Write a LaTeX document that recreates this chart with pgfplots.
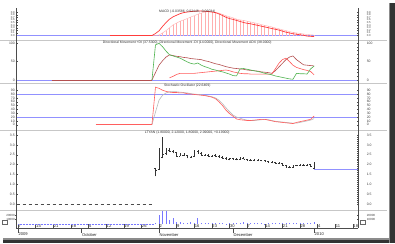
\documentclass[border=0pt]{standalone}
\usepackage{fontspec}
\setmainfont{Liberation Sans}
\usepackage{pgfplots}
\pgfplotsset{compat=1.18}
\usepackage{pgfplotstable}

\definecolor{bluel}{RGB}{145,145,255}
\definecolor{macdred}{RGB}{255,60,60}
\definecolor{macdbar}{RGB}{255,175,175}
\definecolor{dmigreen}{RGB}{80,180,80}
\definecolor{dmired}{RGB}{255,90,90}
\definecolor{dmibrown}{RGB}{180,80,80}
\definecolor{stred}{RGB}{255,95,95}
\definecolor{stgray}{RGB}{185,185,185}
\definecolor{volblue}{RGB}{120,120,255}
\newcommand\tinyf{\fontsize{3.4}{4}\selectfont}
\newcommand\tickf{\fontsize{3.4}{3.8}\selectfont}
\newcommand\datef{\fontsize{4.1}{4.6}\selectfont}

\pgfdeclareplotmark{tickright}{\pgfpathmoveto{\pgfqpoint{0pt}{0pt}}\pgfpathlineto{\pgfqpoint{1.2pt}{0pt}}\pgfusepathqstroke}
\pgfdeclareplotmark{tickleft}{\pgfpathmoveto{\pgfqpoint{0pt}{0pt}}\pgfpathlineto{\pgfqpoint{-1.2pt}{0pt}}\pgfusepathqstroke}

\pgfplotstableread{
i s m
38 0 0
39 0 0.08
40 0.02 0.18
41 0.10 0.35
42 0.19 0.50
43 0.30 0.63
44 0.41 0.72
45 0.48 0.78
46 0.55 0.84
47 0.60 0.88
48 0.65 0.90
49 0.71 0.92
50 0.76 0.93
51 0.82 0.94
52 0.86 0.94
53 0.90 0.93
54 0.92 0.92
55 0.91 0.90
56 0.89 0.88
57 0.86 0.83
58 0.81 0.77
59 0.76 0.70
60 0.72 0.65
61 0.68 0.62
62 0.63 0.58
63 0.60 0.54
64 0.58 0.50
65 0.55 0.47
66 0.52 0.45
67 0.49 0.42
68 0.46 0.39
69 0.42 0.36
70 0.39 0.33
71 0.36 0.30
72 0.33 0.27
73 0.29 0.24
74 0.26 0.21
75 0.22 0.17
76 0.19 0.13
77 0.15 0.10
78 0.12 0.07
79 0.10 0.05
80 0.08 0.03
81 0.06 0.01
82 0.04 -0.02
83 0.03 -0.03
84 0.02 -0.04
}\macdtab

\pgfplotstableread{
i p a
38 0 0
39 95 20
40 99 40
41 90 52
42 78 62
43 68 68
44 65 66
45 62 64
46 59 63
47 54 61
48 49 60
49 45 58
50 43 57
51 46 56
52 40 55
53 36 52
54 33 50
55 29 47
56 27 44
57 24 42
58 22 39
59 19 36
60 16 34
61 12 32
62 11 31
63 30 30
64 31 29
65 29 27
66 27 26
67 25 25
68 23 24
69 21 22
70 18 21
71 16 20
72 14 18
73 11 25
74 9 35
75 7 45
76 5 55
77 3 62
78 2 65
79 18 55
80 17 48
81 17 41
82 16 40
83 30 39
84 37.5 38
}\dmitab

\pgfplotstableread{
i n
43 6
44 10
45 15
46 18
47 18
48 18
49 18
50 18
51 19
52 20
53 21
54 22
55 23
56 24
57 25
58 26
59 27
60 25
61 22
62 20
63 18
64 17
65 17
66 16
67 16
68 16
69 16
70 16
71 16
72 16
73 30
74 45
75 55
76 59
77 50
78 40
79 34
80 31
81 28
82 26
83 23
84 14
}\dmintab

\pgfplotstableread{
i k d
38 1 0
39 98 33
40 95 64
41 90 77
42 87 83
43 85 86
44 84 86
45 84 86
46 83 85
47 83 84
48 81 83
49 80 81
50 79 80
51 78 79
52 77 78
53 76 77
54 74 75
55 72 73
56 68 70
57 60 64
58 50 55
59 38 44
60 29 34
61 22 25
62 15 20
63 13 17
64 12 14
65 11 12
66 11 11
67 12 11
68 13 12
69 14 13
70 14 14
71 12 13
72 10 11
73 8 9
74 7 8
75 6 7
76 5 6
77 4 5
78 3 4
79 6 4
80 8 6
81 10 8
82 12 10
83 14 12
84 22.6 16
}\sttab

\pgfplotstableread{
i o h l c
39 1.80 1.84 1.40 1.70
40 1.75 2.83 1.73 2.70
41 2.40 3.41 2.32 2.55
42 2.60 2.83 2.49 2.75
43 2.75 2.83 2.66 2.70
44 2.70 2.74 2.57 2.62
45 2.62 2.66 2.40 2.45
46 2.45 2.57 2.44 2.50
47 2.50 2.57 2.44 2.48
48 2.48 2.50 2.32 2.40
49 2.40 2.45 2.34 2.42
50 2.42 2.74 2.40 2.70
51 2.70 2.72 2.55 2.60
52 2.60 2.62 2.45 2.50
53 2.50 2.55 2.45 2.48
54 2.48 2.52 2.40 2.45
55 2.45 2.50 2.40 2.46
56 2.46 2.52 2.42 2.44
57 2.44 2.48 2.38 2.40
58 2.40 2.42 2.30 2.33
59 2.33 2.36 2.24 2.28
60 2.28 2.34 2.22 2.30
61 2.30 2.35 2.24 2.28
62 2.28 2.32 2.22 2.26
63 2.26 2.37 2.24 2.34
64 2.34 2.36 2.26 2.28
65 2.28 2.30 2.20 2.24
66 2.24 2.28 2.18 2.22
67 2.22 2.27 2.18 2.24
68 2.24 2.26 2.17 2.20
69 2.20 2.24 2.16 2.22
70 2.22 2.24 2.14 2.18
71 2.18 2.20 2.10 2.14
72 2.14 2.16 2.06 2.10
73 2.10 2.14 2.04 2.08
74 2.08 2.12 2.02 2.05
75 2.05 2.06 1.94 1.97
76 1.97 2.00 1.85 1.88
77 1.88 1.92 1.82 1.86
78 1.86 1.98 1.84 1.95
79 1.95 2.00 1.92 1.96
80 1.96 2.02 1.94 1.98
81 1.98 2.03 1.95 1.97
82 1.97 2.04 1.94 2.00
83 2.00 2.05 1.88 1.90
84 1.80 2.12 1.80 2.09
}\pricetab

\pgfplotstableread{
i v
39 3000
40 20000
41 28000
42 28000
43 9000
44 14000
45 5000
46 4000
47 3000
48 2500
49 4000
50 3000
51 14000
52 2000
53 1500
54 2500
55 1500
56 2000
57 1500
58 2500
59 1000
60 2000
61 1500
62 2500
63 3000
64 4500
65 2000
66 1500
67 2500
68 1500
69 2000
70 1000
71 2500
72 1500
73 2000
74 1500
75 2500
76 2000
77 1500
78 3000
79 1500
80 2000
81 1500
82 2500
83 2000
84 3500
}\voltab

\pgfplotsset{
  panelbase/.style={scale only axis, width=341.5pt, xmin=-0.43, xmax=96.45,
    anchor=south west,
    axis line style={-, draw=black!70, line width=0.4pt},
    tick style={draw=black!70, line width=0.3pt}, major tick length=2pt, minor tick length=1.2pt,
    ytick align=center,
    yticklabel style={font=\tickf, text=black!75, inner sep=0.6pt, /pgf/number format/assume math mode=true}},
  panel/.style={panelbase, axis x line=none, axis y line*=left},
  panelR/.style={panel, axis y line*=right, yticklabel style={xshift=7pt}},
  p1/.style={at={(16.5pt,203pt)}, height=32pt, ymin=-0.17, ymax=1.056,
    ytick={0,0.1,0.2,0.3,0.4,0.5,0.6,0.7,0.8,0.9},
    yticklabel style={font=\fontsize{2.8}{3.1}\selectfont, /pgf/number format/fixed, /pgf/number format/fixed zerofill, /pgf/number format/precision=1}},
  p2/.style={at={(16.5pt,160pt)}, height=43pt, ymin=-8.1, ymax=108.1, ytick={0,50,100}},
  p3/.style={at={(16.5pt,113pt)}, height=47pt, ymin=-13.8, ymax=108.9, ytick={0,10,20,30,40,50,60,70,80,90}},
  p4/.style={at={(16.5pt,33pt)}, height=80pt, ymin=-0.304, ymax=3.755,
    ytick={0,0.5,1,1.5,2,2.5,3,3.5},
    yticklabel style={/pgf/number format/fixed, /pgf/number format/fixed zerofill, /pgf/number format/precision=1}},
  p5/.style={at={(16.5pt,15pt)}, height=18pt, ymin=-8889, ymax=31111,
    ytick={10000,20000}, scaled y ticks=false,
    yticklabel style={font=\fontsize{3}{3.4}\selectfont, /pgf/number format/fixed, /pgf/number format/1000 sep={}}},
}

\begin{document}
\begin{tikzpicture}
\path[use as bounding box] (0pt,0pt) rectangle (395pt,243pt);
\fill[white] (0pt,0pt) rectangle (395pt,243pt);
% shadow
\fill[black!45] (3pt,3pt) rectangle (395pt,5pt);
\fill[black!80] (3pt,0pt) rectangle (395pt,3.5pt);
\fill[black!45] (388.5pt,0pt) rectangle (390.5pt,240pt);
\fill[black!80] (390pt,0pt) rectangle (395pt,240pt);
% separators
\foreach \yy in {40,83,130,210} {\draw[black!22, line width=0.9pt] (0pt,243pt-\yy pt) -- (387pt,243pt-\yy pt);}
% small icons
\draw[black!60, line width=0.3pt] (2.5pt,19pt) rectangle (7pt,22.5pt);
\draw[black!60, line width=0.3pt] (360pt,19pt) rectangle (365pt,22.5pt);

% ---------- MACD ----------
\begin{axis}[panel, p1]
\addplot[bluel, line width=0.8pt] coordinates {(-0.43,0) (96.45,0)};
\addplot[macdbar, ycomb, line width=0.55pt] table[x=i,y=s]{\macdtab};
\addplot[macdbar, line width=0.4pt] table[x=i,y=s]{\macdtab};
\addplot[macdred, line width=0.5pt] coordinates {(26,0) (38,0)};
\addplot[macdred, line width=0.7pt] table[x=i,y=m]{\macdtab};
\node[font=\tinyf, text=black!80, anchor=north, inner sep=0pt] at (rel axis cs:0.5,0.93) {MACD (-0.03586, 0.02448, -0.06034)};
\end{axis}
\begin{axis}[panelR, p1]\end{axis}

% ---------- DMI ----------
\begin{axis}[panel, p2]
\addplot[bluel, line width=0.8pt] coordinates {(-0.43,0) (96.45,0)};
\addplot[dmibrown, line width=0.6pt] coordinates {(9.5,0) (38,0)};
\addplot[dmibrown, line width=0.6pt] table[x=i,y=a]{\dmitab};
\addplot[dmired, line width=0.6pt] table[x=i,y=n]{\dmintab};
\addplot[dmigreen, line width=0.6pt] table[x=i,y=p]{\dmitab};
\node[font=\tinyf, text=black!80, anchor=north, inner sep=0pt] at (rel axis cs:0.5,0.975) {Directional Movement +DI (37.5300), Directional Movement -DI (14.0000), Directional Movement ADX (38.0000)};
\end{axis}
\begin{axis}[panelR, p2, minor y tick num=4]\end{axis}

% ---------- Stochastic ----------
\begin{axis}[panel, p3]
\addplot[bluel, line width=0.8pt] coordinates {(-0.43,80) (96.45,80)};
\addplot[bluel, line width=0.8pt] coordinates {(-0.43,20) (96.45,20)};
\addplot[stgray, line width=0.6pt] table[x=i,y=d]{\sttab};
\addplot[stred, line width=0.6pt] coordinates {(22,1) (38,1)};
\addplot[stred, line width=0.6pt] table[x=i,y=k]{\sttab};
\node[font=\tinyf, text=black!80, anchor=north, inner sep=0pt] at (rel axis cs:0.5,0.975) {Stochastic Oscillator (22.6469)};
\end{axis}
\begin{axis}[panelR, p3]\end{axis}

% ---------- Price ----------
\begin{axis}[panel, p4]
\addplot[black!70, dashed, line width=0.4pt] coordinates {(-0.43,0) (38.6,0)};
\addplot[bluel, line width=0.8pt] coordinates {(84,1.75) (96.45,1.75)};
\addplot[draw=none, mark=none, error bars/.cd, y dir=plus, y explicit, error mark=none,
  error bar style={draw=black!80, line width=0.35pt}]
  table[x=i, y=l, y error expr=\thisrow{h}-\thisrow{l}]{\pricetab};
\addplot[black!80, only marks, mark=tickright, mark options={line width=0.35pt}] table[x=i,y=c]{\pricetab};
\addplot[black!80, only marks, mark=tickleft, mark options={line width=0.35pt}] table[x=i,y=o]{\pricetab};
\node[font=\tinyf, text=black!80, anchor=north, inner sep=0pt] at (rel axis cs:0.5,0.985) {LTYAN (1.80000, 2.12000, 1.80000, 2.09000, +0.19000)};
\end{axis}
\begin{axis}[panelR, p4, minor y tick num=4]\end{axis}

% ---------- Volume ----------
\begin{axis}[panelbase, p5, axis y line=none, axis x line*=bottom, ytick=\empty,
  xtick={0,5,10,15,20,25,30,35,40,45,50,55,60,65,70,75,80,85,90,95},
  xticklabels={7,14,21,28,5,12,19,26,2,9,16,23,30,7,14,21,28,4,11,18},
  xtick align=inside, major tick length=4pt,
  xticklabel style={font=\datef, text=black!85, anchor=south west, inner sep=0.4pt},
  extra x ticks={0,18,40,61,84},
  extra x tick labels={2009,October,November,December,2010},
  extra x tick style={xtick align=outside, major tick length=5pt,
    xticklabel style={anchor=north west, inner sep=0.4pt, yshift=0.5pt}}]
\addplot[volblue, densely dotted, line width=0.5pt] coordinates {(0,0) (38.5,0)};
\addplot[volblue, ycomb, line width=0.6pt] table[x=i,y=v]{\voltab};
\end{axis}
\begin{axis}[panel, p5]\end{axis}
\begin{axis}[panelR, p5]\end{axis}
\end{tikzpicture}
\end{document}
